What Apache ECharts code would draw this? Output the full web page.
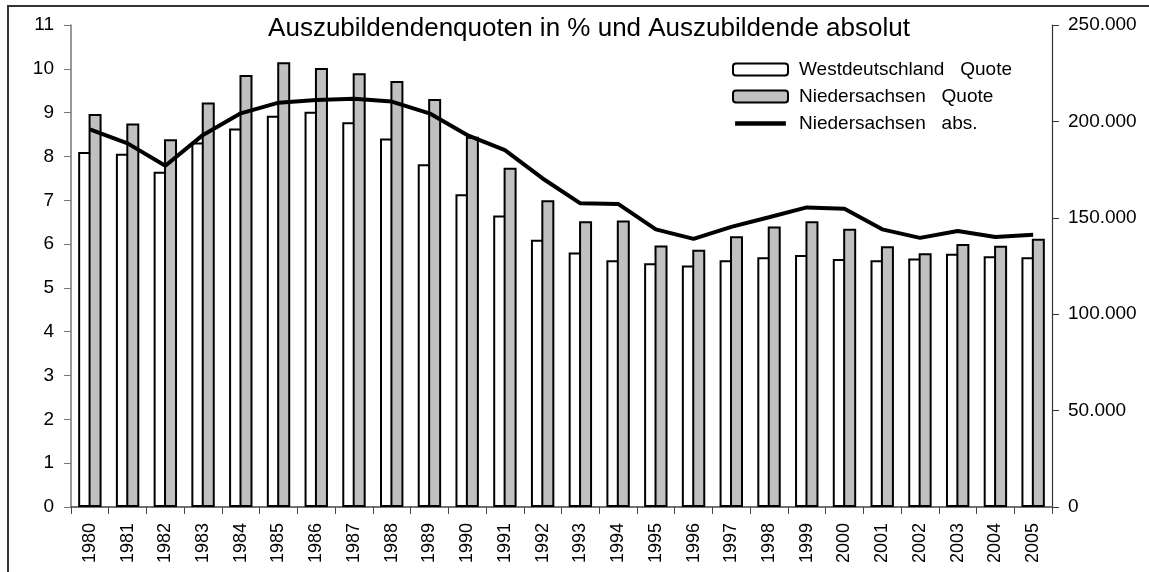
<!DOCTYPE html>
<html>
<head>
<meta charset="utf-8">
<script src="https://cdn.jsdelivr.net/npm/echarts@6/dist/echarts.min.js"></script>
<style>
  html, body { margin: 0; padding: 0; background: #fff; }
  #main { width: 1149px; height: 572px; }
</style>
</head>
<body>
<div id="main"></div>
<script>
// data
var years = ['1980', '1981', '1982', '1983', '1984', '1985', '1986', '1987', '1988', '1989',
             '1990', '1991', '1992', '1993', '1994', '1995', '1996', '1997', '1998', '1999',
             '2000', '2001', '2002', '2003', '2004', '2005'];
var quoteWest = [8.10, 8.06, 7.65, 8.32, 8.64, 8.93, 9.02, 8.78, 8.41, 7.82,
                 7.14, 6.65, 6.10, 5.81, 5.63, 5.56, 5.51, 5.63, 5.70, 5.75,
                 5.66, 5.63, 5.67, 5.78, 5.72, 5.70];
var quoteNds = [8.97, 8.75, 8.39, 9.23, 9.86, 10.15, 10.02, 9.90, 9.72, 9.31,
                8.45, 7.74, 7.00, 6.52, 6.54, 5.97, 5.87, 6.18, 6.40, 6.52,
                6.35, 5.95, 5.79, 6.00, 5.96, 6.12];
var absNds = [195900, 188600, 177000, 193000, 204200, 209700, 211100, 211800, 210300, 204200,
              192900, 185100, 170400, 157500, 157200, 144000, 139100, 145300, 150300, 155400,
              154700, 144000, 139600, 143200, 140000, 141200];

var font = "'Liberation Sans', Arial, sans-serif";
var nameWest = 'Westdeutschland   Quote';
var nameNds = 'Niedersachsen   Quote';
var nameAbs = 'Niedersachsen   abs.';

var chart = echarts.init(document.getElementById('main'));
var option = {
    animation: false,
    backgroundColor: '#fff',
    textStyle: { fontFamily: font },
    title: {
        text: 'Auszubildendenquoten in % und Auszubildende absolut',
        left: 584,
        textAlign: 'center',
        top: 11,
        textStyle: { fontFamily: font, fontSize: 26, fontWeight: 'normal', color: '#000' }
    },
    legend: {
        orient: 'vertical',
        left: 727,
        top: 55,
        itemWidth: 55,
        itemHeight: 12,
        itemGap: 8,
        textStyle: { fontFamily: font, fontSize: 19, color: '#000', padding: [0, 0, 0, 6] },
        data: [
            nameWest,
            nameNds,
            // thick line icon, padded box so it keeps its thickness
            { name: nameAbs, icon: 'path://M0,0 M0,4 L55,4 L55,9 L0,9 Z M55,13', itemStyle: { borderWidth: 0 } }
        ]
    },
    grid: { left: 71, right: 97, top: 25, bottom: 65 },
    xAxis: {
        type: 'category',
        data: years,
        axisLine: { lineStyle: { color: '#444', width: 1.5 } },
        axisTick: { show: true, length: 7, lineStyle: { color: '#444' } },
        axisLabel: { rotate: 90, fontSize: 18, color: '#000', margin: 16, fontFamily: font }
    },
    yAxis: [
        {
            type: 'value',
            min: 0, max: 11, interval: 1,
            splitLine: { show: false },
            axisLine: { show: true, lineStyle: { color: '#777', width: 1.5 } },
            axisTick: { show: true, length: 7, lineStyle: { color: '#777' } },
            axisLabel: { fontSize: 19, color: '#000', margin: 17, fontFamily: font }
        },
        {
            type: 'value',
            min: 0, max: 250000, interval: 50000,
            splitLine: { show: false },
            axisLine: { show: true, lineStyle: { color: '#333', width: 1.2 } },
            axisTick: { show: true, length: 7, lineStyle: { color: '#333' } },
            axisLabel: {
                fontSize: 19, color: '#000', margin: 16, fontFamily: font,
                formatter: function (v) {
                    return v === 0 ? '0' : String(v).replace(/\B(?=(\d{3})+(?!\d))/g, '.');
                }
            }
        }
    ],
    series: [
        {
            name: nameWest,
            type: 'bar',
            data: quoteWest,
            barWidth: 13,
            barGap: '-20%',
            itemStyle: { color: '#fff', borderColor: '#000', borderWidth: 2 }
        },
        {
            name: nameNds,
            type: 'bar',
            data: quoteNds,
            barWidth: 13,
            itemStyle: { color: '#c0c0c0', borderColor: '#000', borderWidth: 2 }
        },
        {
            name: nameAbs,
            type: 'line',
            yAxisIndex: 1,
            data: absNds,
            symbol: 'none',
            z: 5,
            lineStyle: { color: '#000', width: 4 },
            itemStyle: { color: '#000' }
        }
    ],
    graphic: [
        {
            type: 'rect',
            shape: { x: 8, y: 6, width: 1200, height: 600 },
            style: { fill: 'none', stroke: '#333', lineWidth: 2 },
            silent: true
        }
    ]
};
chart.setOption(option);
</script>
</body>
</html>
